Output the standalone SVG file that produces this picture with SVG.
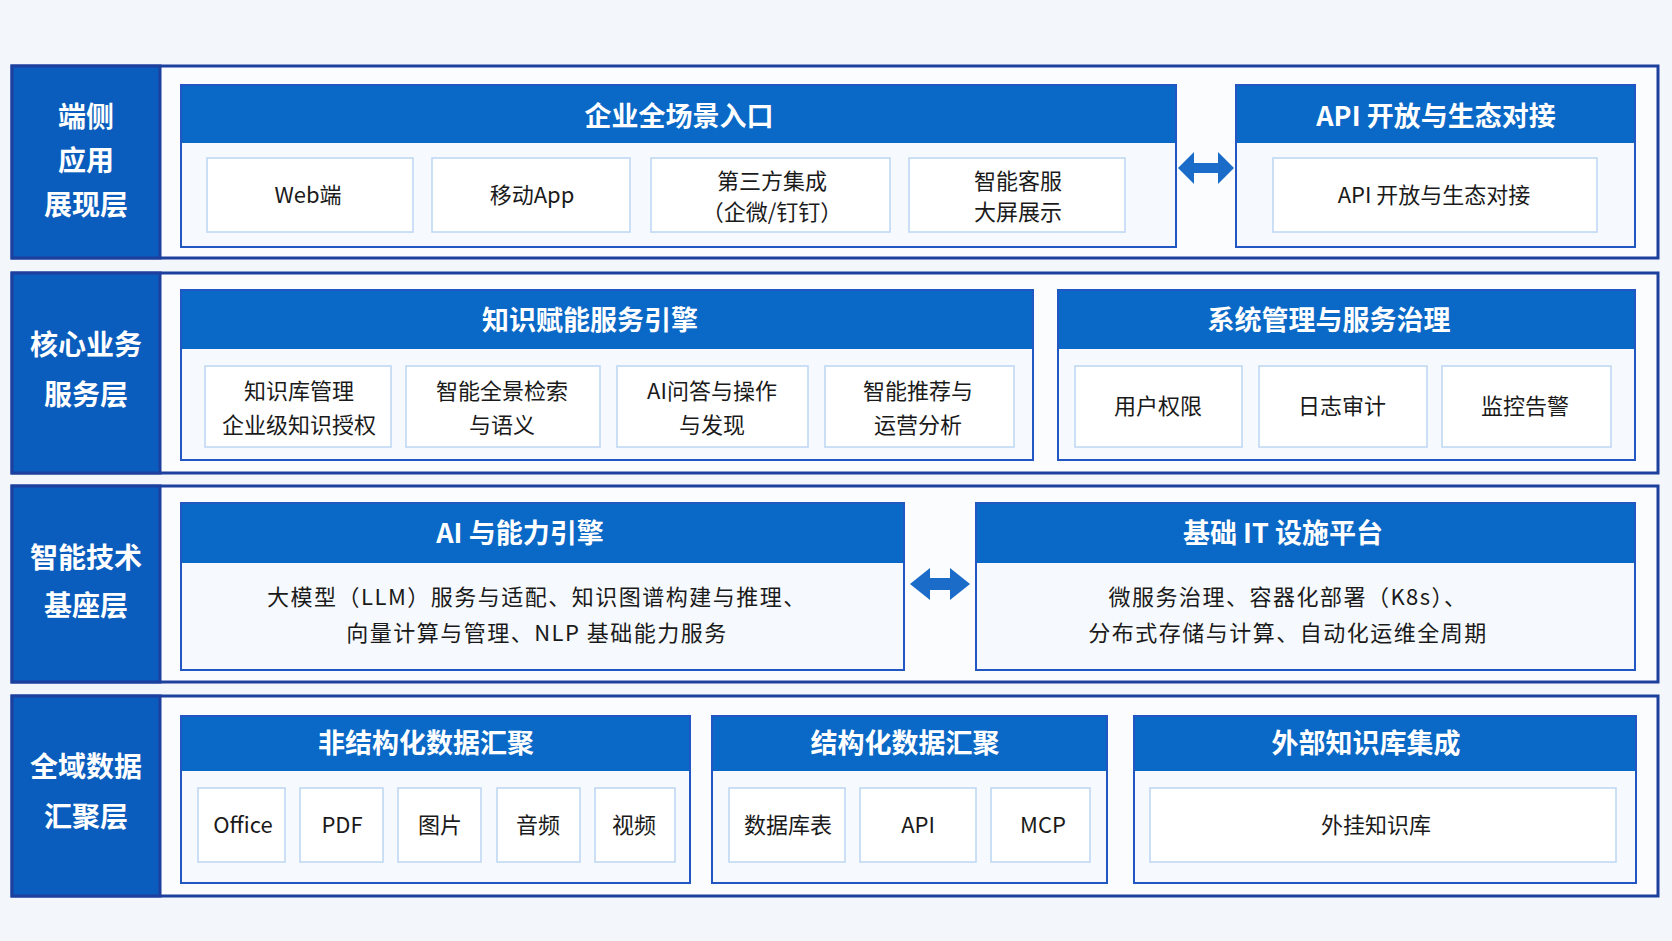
<svg xmlns="http://www.w3.org/2000/svg" width="1672" height="941" viewBox="0 0 1672 941">
<style>
.bg{fill:#f3f6fb}
.row{fill:#fbfcfe;stroke:#1d3f9e;stroke-width:3}
.lab{fill:#0a5dbd;stroke:#1d3f9e;stroke-width:3}
.grp{fill:#f6f9fd;stroke:#2256c2;stroke-width:2}
.hdr{fill:#0a68c6}
.item{fill:#ffffff;stroke:#bcd6f2;stroke-width:1.5}
.arrow{fill:#1a6cc8}
text{font-family:"Noto Sans CJK SC","Noto Sans",sans-serif;text-anchor:middle}
.lt{font-size:28px;font-weight:700;fill:#ffffff}
.ht{font-size:27px;font-weight:700;fill:#ffffff}
.it{font-size:22px;fill:#1a1a1a}
.bt{font-size:22px;fill:#1a1a1a;letter-spacing:1.5px}
</style>
<rect class="bg" x="0" y="0" width="1672" height="941"/>

<!-- Row 1 -->
<g id="layer-1">
<rect class="row" x="12" y="66" width="1646" height="192"/>
<rect class="lab" x="12" y="66" width="148" height="192"/>
<text class="lt" x="86" y="127">端侧</text>
<text class="lt" x="86" y="171">应用</text>
<text class="lt" x="86" y="215">展现层</text>
</g>
<g id="group-entry">
<rect class="grp" x="181" y="85" width="995" height="162"/>
<rect class="hdr" x="182" y="86" width="993" height="57"/>
<text class="ht" x="679" y="126">企业全场景入口</text>
</g>
<g id="item-web"><rect class="item" x="207" y="158" width="206" height="74"/><text class="it" x="308" y="203">Web端</text></g>
<g id="item-app"><rect class="item" x="432" y="158" width="198" height="74"/><text class="it" x="532" y="203">移动App</text></g>
<g id="item-third"><rect class="item" x="651" y="158" width="239" height="74"/><text class="it" x="772" y="189">第三方集成</text><text class="it" x="772" y="220">（企微/钉钉）</text></g>
<g id="item-screen"><rect class="item" x="909" y="158" width="216" height="74"/><text class="it" x="1018" y="189">智能客服</text><text class="it" x="1018" y="220">大屏展示</text></g>
<g id="group-api">
<rect class="grp" x="1236" y="85" width="399" height="162"/>
<rect class="hdr" x="1237" y="86" width="397" height="57"/>
<text class="ht" x="1436" y="126">API 开放与生态对接</text>
</g>
<g id="item-api-open"><rect class="item" x="1273" y="158" width="324" height="74"/><text class="it" x="1434" y="203">API 开放与生态对接</text></g>

<!-- Row 2 -->
<g id="layer-2">
<rect class="row" x="12" y="273" width="1646" height="200"/>
<rect class="lab" x="12" y="273" width="148" height="200"/>
<text class="lt" x="86" y="355">核心业务</text>
<text class="lt" x="86" y="405">服务层</text>
</g>
<g id="group-knowledge">
<rect class="grp" x="181" y="290" width="852" height="170"/>
<rect class="hdr" x="182" y="291" width="850" height="58"/>
<text class="ht" x="590" y="330">知识赋能服务引擎</text>
</g>
<g id="item-kb"><rect class="item" x="205" y="366" width="186" height="81"/><text class="it" x="299" y="399">知识库管理</text><text class="it" x="299" y="433">企业级知识授权</text></g>
<g id="item-search"><rect class="item" x="406" y="366" width="194" height="81"/><text class="it" x="502" y="399">智能全景检索</text><text class="it" x="502" y="433">与语义</text></g>
<g id="item-qa"><rect class="item" x="617" y="366" width="191" height="81"/><text class="it" x="712" y="399">AI问答与操作</text><text class="it" x="712" y="433">与发现</text></g>
<g id="item-rec"><rect class="item" x="825" y="366" width="189" height="81"/><text class="it" x="918" y="399">智能推荐与</text><text class="it" x="918" y="433">运营分析</text></g>
<g id="group-sys">
<rect class="grp" x="1058" y="290" width="577" height="170"/>
<rect class="hdr" x="1059" y="291" width="575" height="58"/>
<text class="ht" x="1329" y="330">系统管理与服务治理</text>
</g>
<g id="item-perm"><rect class="item" x="1075" y="366" width="167" height="81"/><text class="it" x="1158" y="414">用户权限</text></g>
<g id="item-log"><rect class="item" x="1259" y="366" width="168" height="81"/><text class="it" x="1342" y="414">日志审计</text></g>
<g id="item-mon"><rect class="item" x="1442" y="366" width="169" height="81"/><text class="it" x="1525" y="414">监控告警</text></g>

<!-- Row 3 -->
<g id="layer-3">
<rect class="row" x="12" y="486" width="1646" height="196"/>
<rect class="lab" x="12" y="486" width="148" height="196"/>
<text class="lt" x="86" y="568">智能技术</text>
<text class="lt" x="86" y="616">基座层</text>
</g>
<g id="group-ai">
<rect class="grp" x="181" y="503" width="723" height="167"/>
<rect class="hdr" x="182" y="504" width="721" height="59"/>
<text class="ht" x="520" y="543">AI 与能力引擎</text>
<text class="bt" x="537" y="605">大模型（LLM）服务与适配、知识图谱构建与推理、</text>
<text class="bt" x="537" y="641">向量计算与管理、NLP 基础能力服务</text>
</g>
<g id="group-it">
<rect class="grp" x="976" y="503" width="659" height="167"/>
<rect class="hdr" x="977" y="504" width="657" height="59"/>
<text class="ht" x="1283" y="543">基础 IT 设施平台</text>
<text class="bt" x="1288" y="605">微服务治理、容器化部署（K8s）、</text>
<text class="bt" x="1288" y="641">分布式存储与计算、自动化运维全周期</text>
</g>

<!-- Row 4 -->
<g id="layer-4">
<rect class="row" x="12" y="696" width="1646" height="200"/>
<rect class="lab" x="12" y="696" width="148" height="200"/>
<text class="lt" x="86" y="777">全域数据</text>
<text class="lt" x="86" y="827">汇聚层</text>
</g>
<g id="group-unstruct">
<rect class="grp" x="181" y="716" width="509" height="167"/>
<rect class="hdr" x="182" y="717" width="507" height="54"/>
<text class="ht" x="426" y="753">非结构化数据汇聚</text>
</g>
<g id="item-office"><rect class="item" x="198" y="788" width="87" height="74"/><text class="it" x="243" y="833">Office</text></g>
<g id="item-pdf"><rect class="item" x="300" y="788" width="83" height="74"/><text class="it" x="342" y="833">PDF</text></g>
<g id="item-img"><rect class="item" x="398" y="788" width="83" height="74"/><text class="it" x="440" y="833">图片</text></g>
<g id="item-audio"><rect class="item" x="497" y="788" width="83" height="74"/><text class="it" x="538" y="833">音频</text></g>
<g id="item-video"><rect class="item" x="595" y="788" width="80" height="74"/><text class="it" x="634" y="833">视频</text></g>
<g id="group-struct">
<rect class="grp" x="712" y="716" width="395" height="167"/>
<rect class="hdr" x="713" y="717" width="393" height="54"/>
<text class="ht" x="905" y="753">结构化数据汇聚</text>
</g>
<g id="item-db"><rect class="item" x="729" y="788" width="116" height="74"/><text class="it" x="788" y="833">数据库表</text></g>
<g id="item-api2"><rect class="item" x="860" y="788" width="116" height="74"/><text class="it" x="918" y="833">API</text></g>
<g id="item-mcp"><rect class="item" x="991" y="788" width="99" height="74"/><text class="it" x="1043" y="833">MCP</text></g>
<g id="group-ext">
<rect class="grp" x="1134" y="716" width="502" height="167"/>
<rect class="hdr" x="1135" y="717" width="500" height="54"/>
<text class="ht" x="1366" y="753">外部知识库集成</text>
</g>
<g id="item-extkb"><rect class="item" x="1150" y="788" width="466" height="74"/><text class="it" x="1376" y="833">外挂知识库</text></g>

<!-- Connectors -->
<g id="connectors">
<path class="arrow" d="M1178,168 L1194,152 L1194,163 L1218,163 L1218,152 L1234,168 L1218,184 L1218,173 L1194,173 L1194,184 Z"/>
<path class="arrow" d="M910,584 L930,568 L930,578 L950,578 L950,568 L970,584 L950,600 L950,590 L930,590 L930,600 Z"/>
</g>
</svg>
